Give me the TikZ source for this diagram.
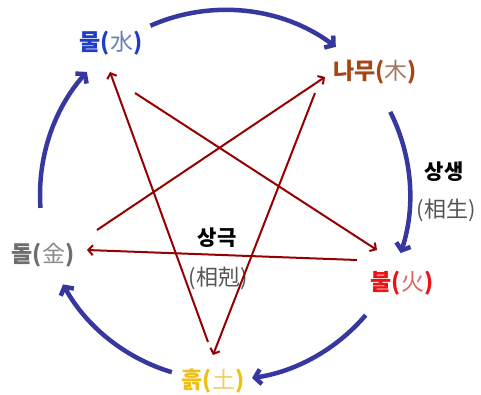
\documentclass[tikz,border=0pt]{standalone}
\usepackage{fontspec}
\setmainfont{Noto Sans CJK KR}
\usetikzlibrary{arrows.meta}
\definecolor{sheng}{RGB}{55,55,160}
\definecolor{ke}{RGB}{150,0,0}
\definecolor{cwater}{RGB}{30,60,200}
\definecolor{cwaterh}{RGB}{110,125,180}
\definecolor{cwood}{RGB}{165,70,20}
\definecolor{cwoodh}{RGB}{160,120,100}
\definecolor{cmetal}{RGB}{110,110,110}
\definecolor{cmetalh}{RGB}{140,140,140}
\definecolor{cfire}{RGB}{235,20,20}
\definecolor{cfireh}{RGB}{220,100,100}
\definecolor{cearth}{RGB}{240,190,20}
\definecolor{cearthh}{RGB}{240,205,100}
\definecolor{chanja}{RGB}{85,85,85}
\tikzset{
  elem/.style={inner sep=0pt, font=\fontsize{23}{25}\selectfont\bfseries},
  lbl/.style={inner sep=0pt, font=\fontsize{22}{24}\selectfont},
  lblb/.style={inner sep=0pt, font=\fontsize{21}{23}\selectfont\bfseries},
  shengarc/.style={draw=sheng, line width=4.5pt, -{Straight Barb[length=6pt,width=15pt]}},
  kearrow/.style={draw=ke, line width=2pt, -{Straight Barb[length=4.5pt,width=10pt]}}
}
\newcommand{\hj}[2]{{\mdseries\color{#1}#2}}
\begin{document}
\begin{tikzpicture}[x=1pt,y=1pt]
\useasboundingbox (0,0) rectangle (481,394);
% element labels
\node[elem, text=cwater] (water) at (111,351) {물(\hj{cwaterh}{水})};
\node[elem, text=cwood] (wood) at (375,322) {나무(\hj{cwoodh}{木})};
\node[elem, text=cmetal] (metal) at (43,139) {돌(\hj{cmetalh}{金})};
\node[elem, text=cfire] (fire) at (402,111) {불(\hj{cfireh}{火})};
\node[elem, text=cearth] (earth) at (213,13) {흙(\hj{cearthh}{土})};
% legend labels
\node[lblb] (sangsaeng) at (444,222) {상생};
\node[lbl, text=chanja] (sangsaenghj) at (446,184) {(相生)};
\node[lblb] (sanggeuk) at (217,156) {상극};
\node[lbl, text=chanja] (sanggeukhj) at (218,116) {(相剋)};
% red line ends
\coordinate (wfA) at (135,301); \coordinate (wfB) at (377,144);
\coordinate (fmA) at (357,134); \coordinate (fmB) at (87,144);
\coordinate (mwA) at (97,164);  \coordinate (mwB) at (325,317);
\coordinate (weA) at (315,301); \coordinate (weB) at (213,39);
\coordinate (ewA) at (208,52);  \coordinate (ewB) at (110,322);
\draw[kearrow] (wfA) -- (wfB);
\draw[kearrow] (fmA) -- (fmB);
\draw[kearrow] (mwA) -- (mwB);
\draw[kearrow] (weA) -- (weB);
\draw[kearrow] (ewA) -- (ewB);
% sheng arcs
\coordinate (c) at (225,199);
\draw[shengarc] (c) ++(113.8:185pt) arc[start angle=113.8, end angle=53.2, radius=185pt];
\draw[shengarc] (c) ++(26.7:185pt) arc[start angle=26.7, end angle=-18.3, radius=185pt];
\draw[shengarc] (c) ++(-40.5:185pt) arc[start angle=-40.5, end angle=-81.6, radius=185pt];
\draw[shengarc] (c) ++(-106.7:185pt) arc[start angle=-106.7, end angle=-151.1, radius=185pt];
\draw[shengarc] (c) ++(184:185pt) arc[start angle=184, end angle=138.3, radius=185pt];
\end{tikzpicture}
\end{document}
